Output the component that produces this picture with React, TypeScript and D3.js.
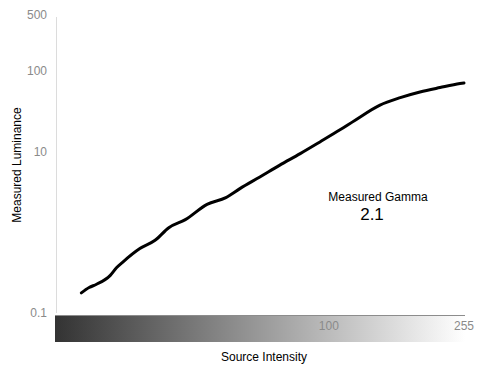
import React from "react";
import * as d3 from "d3";

const intensity = [18, 19, 20, 22, 23, 24, 27, 30, 33, 37, 43, 49, 54, 62, 71, 82, 94, 108, 120, 142, 164, 188, 216, 248, 255];
const luminance = [0.175, 0.204, 0.224, 0.289, 0.361, 0.423, 0.621, 0.787, 1.13, 1.42, 2.2, 2.67, 3.45, 4.81, 6.71, 9.38, 13.1, 18.5, 24.4, 37.3, 46.5, 54.6, 61.9, 69.4, 70.6];
const yTicks = [500, 100, 10, 0.1];
const xTicks = [100, 255];
const gammaValue = "2.1";

const W = 485;
const H = 375;

export default function App() {
  const x = d3.scaleLog().domain([15, 255]).range([55, 464]);
  const y = d3.scaleLog().domain([0.1, 500]).range([312.5, 14.5]);
  const pts: [number, number][] = intensity.map((v, i) => [v, luminance[i]]);
  const line = d3
    .line<[number, number]>()
    .x((d) => x(d[0]))
    .y((d) => y(d[1]))
    .curve(d3.curveMonotoneX);
  const font = "'Liberation Sans', Arial, Helvetica, sans-serif";
  return (
    <svg
      width={W}
      height={H}
      style={{ position: "absolute", left: 0, top: 0, background: "#fff" }}
      fontFamily={font}
    >
      <defs>
        <linearGradient id="ramp" x1="0" x2="1" y1="0" y2="0">
          <stop offset="0%" stopColor="#333333" />
          <stop offset="100%" stopColor="#ffffff" />
        </linearGradient>
      </defs>
      <line x1={56.5} x2={56.5} y1={17} y2={313} stroke="#dcdcdc" strokeWidth={1} />
      {yTicks.map((t) => (
        <text
          key={t}
          x={47}
          y={y(t)}
          dy="0.35em"
          textAnchor="end"
          fontSize={12}
          fill="#8a8a8a"
        >
          {t}
        </text>
      ))}
      <rect x={55} y={315} width={410} height={27} fill="url(#ramp)" />
      <line x1={55} x2={465} y1={315.5} y2={315.5} stroke="#8c8c8c" strokeWidth={1} />
      {xTicks.map((t) => (
        <text
          key={t}
          x={x(t)}
          y={326}
          dy="0.35em"
          textAnchor="middle"
          fontSize={12}
          fill="#8a8a8a"
        >
          {t}
        </text>
      ))}
      <path d={line(pts) || ""} fill="none" stroke="#000" strokeWidth={3} strokeLinejoin="round" strokeLinecap="round" />
      <text x={378} y={201} textAnchor="middle" fontSize={12} fill="#000">
        Measured Gamma
      </text>
      <text x={372} y={220} textAnchor="middle" fontSize={17} fill="#000">
        {gammaValue}
      </text>
      <text
        transform={`translate(21,165) rotate(-90)`}
        textAnchor="middle"
        fontSize={12}
        fill="#000"
      >
        Measured Luminance
      </text>
      <text x={264} y={361} textAnchor="middle" fontSize={12} fill="#000">
        Source Intensity
      </text>
    </svg>
  );
}
